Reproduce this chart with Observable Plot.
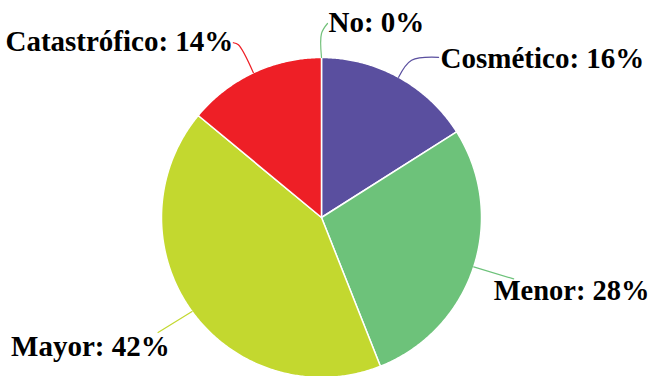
<!DOCTYPE html>
<html>
<head>
<meta charset="utf-8">
<script src="https://cdn.jsdelivr.net/npm/d3@7"></script>
<script src="https://cdn.jsdelivr.net/npm/@observablehq/plot@0.6"></script>
<style>
  html, body { margin: 0; padding: 0; background: #fff; }
</style>
</head>
<body>
<div id="chart"></div>
<script>
// ---- data ----
const categories = ["No", "Cosmético", "Menor", "Mayor", "Catastrófico"];
const percents   = [0, 16, 28, 42, 14];
const colors     = ["#72C17A", "#5A4F9F", "#6DC27A", "#C3D82F", "#EE1F26"];

// ---- layout (pixels, relative to the slice's mid-point on the rim) ----
const R = 160;
const layout = {
  "No":           {path: [[0, -24], [6, -34]],  text: [1, -1],   anchor: "start"},
  "Cosmético":    {path: [[13, -17], [40, -20]], text: [2, 1],    anchor: "start"},
  "Menor":        {path: [[40, 12]],             text: [-20, 12], anchor: "start", size: 28.5},
  "Mayor":        {path: [[-34, 21]],            text: [-147, 14], anchor: "start"},
  "Catastrófico": {path: [[-15, -28], [-20, -30]], text: [0, -1], anchor: "end"}
};

// ---- build slices ----
const total = d3.sum(percents);
let acc = 0;
const slices = categories.map((c, i) => {
  const a0 = acc / total * 2 * Math.PI;
  acc += percents[i];
  const a1 = acc / total * 2 * Math.PI;
  return {cat: c, pct: percents[i], a0, a1, mid: (a0 + a1) / 2};
});

const slicePts = [];
for (const s of slices) {
  if (s.a1 - s.a0 <= 0) continue;
  slicePts.push({cat: s.cat, x: 0, y: 0});
  const n = Math.max(2, Math.ceil((s.a1 - s.a0) / (Math.PI / 360)));
  for (let k = 0; k <= n; k++) {
    const a = s.a0 + (s.a1 - s.a0) * k / n;
    slicePts.push({cat: s.cat, x: Math.sin(a), y: Math.cos(a)});
  }
}

const leaders = [];
const labels = [];
for (const s of slices) {
  const L = layout[s.cat];
  const sx = Math.sin(s.mid), sy = Math.cos(s.mid);
  leaders.push({cat: s.cat, x: sx, y: sy});
  let ex = sx, ey = sy;
  for (const [dx, dy] of L.path) {
    ex = sx + dx / R; ey = sy - dy / R;
    leaders.push({cat: s.cat, x: ex, y: ey});
  }
  labels.push({
    cat: s.cat,
    label: `${s.cat}: ${s.pct}%`,
    x: ex + L.text[0] / R,
    y: ey - L.text[1] / R,
    anchor: L.anchor,
    size: L.size || 29
  });
}

const font = "Liberation Serif";
const textMarks = labels.map(d => Plot.text([d], {
  x: "x", y: "y", text: "label", textAnchor: d.anchor, lineAnchor: "middle",
  fontFamily: font, fontSize: d.size, fontWeight: "bold", fill: "black"
}));

const chart = Plot.plot({
  width: 653,
  height: 376,
  margin: 0,
  x: {domain: [-1, 1], range: [161, 481], axis: null},
  y: {domain: [-1, 1], range: [377, 57], axis: null},
  color: {domain: categories, range: colors},
  style: {background: "white", overflow: "visible"},
  marks: [
    Plot.line(slicePts, {x: "x", y: "y", z: "cat", fill: "cat", stroke: "white", strokeWidth: 1.5, curve: "linear-closed"}),
    Plot.line(leaders, {x: "x", y: "y", z: "cat", stroke: "cat", strokeWidth: 1.2, curve: "catmull-rom"}),
    ...textMarks
  ]
});
document.getElementById("chart").appendChild(chart);
</script>
</body>
</html>
